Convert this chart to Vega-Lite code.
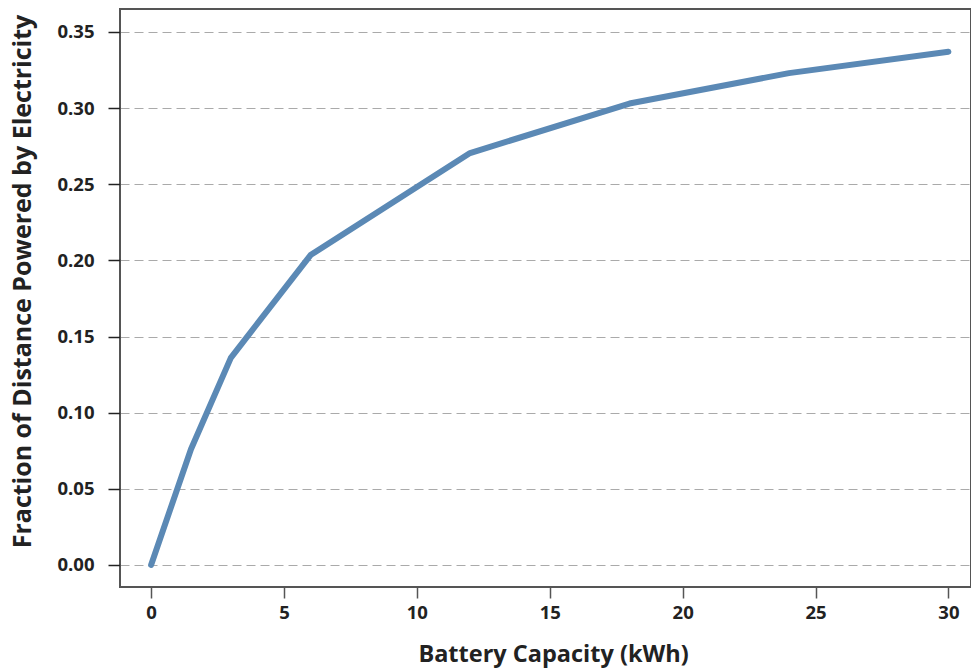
{
  "$schema": "https://vega.github.io/schema/vega-lite/v6.json",
  "width": 851,
  "height": 578,
  "autosize": {"type": "none"},
  "padding": {"left": 120, "top": 9, "right": 0, "bottom": 82},
  "background": "white",
  "config": {
    "view": {"stroke": "#555555", "strokeWidth": 2},
    "font": "Open Sans"
  },
  "data": {
    "values": [
      {"capacity": 0, "fraction": 0.0},
      {"capacity": 1.5, "fraction": 0.076},
      {"capacity": 3, "fraction": 0.136},
      {"capacity": 6, "fraction": 0.2035},
      {"capacity": 12, "fraction": 0.2705},
      {"capacity": 18, "fraction": 0.303},
      {"capacity": 24, "fraction": 0.323},
      {"capacity": 30, "fraction": 0.337}
    ]
  },
  "mark": {"type": "line", "color": "#5b89b5", "strokeWidth": 6, "strokeCap": "round", "strokeJoin": "round"},
  "encoding": {
    "x": {
      "field": "capacity",
      "type": "quantitative",
      "scale": {"domain": [-1.17, 30.85], "nice": false, "zero": false},
      "axis": {
        "title": "Battery Capacity (kWh)",
        "values": [0, 5, 10, 15, 20, 25, 30],
        "grid": false,
        "domain": false,
        "tickSize": 11,
        "tickColor": "#555555",
        "tickWidth": 1.5,
        "labelFont": "Open Sans",
        "labelFontSize": 18.5,
        "labelFontWeight": "bold",
        "labelColor": "#222222",
        "labelPadding": 5,
        "titleFont": "Open Sans",
        "titleFontSize": 23.5,
        "titleFontWeight": "bold",
        "titleColor": "#222222",
        "titlePadding": 21,
        "titleX": 433
      }
    },
    "y": {
      "field": "fraction",
      "type": "quantitative",
      "scale": {"domain": [-0.0145, 0.3651], "nice": false, "zero": false},
      "axis": {
        "title": "Fraction of Distance Powered by Electricity",
        "values": [0, 0.05, 0.1, 0.15, 0.2, 0.25, 0.3, 0.35],
        "format": ".2f",
        "grid": true,
        "gridColor": "#aaaaaa",
        "gridDash": [9, 5],
        "gridWidth": 1,
        "domain": false,
        "tickSize": 12,
        "tickColor": "#222222",
        "tickWidth": 1.5,
        "labelFont": "Open Sans",
        "labelFontSize": 18.5,
        "labelFontWeight": "bold",
        "labelColor": "#222222",
        "labelPadding": 14,
        "titleFont": "Open Sans",
        "titleFontSize": 25,
        "titleFontWeight": "bold",
        "titleColor": "#222222",
        "titlePadding": 21,
        "titleY": 272
      }
    }
  }
}
